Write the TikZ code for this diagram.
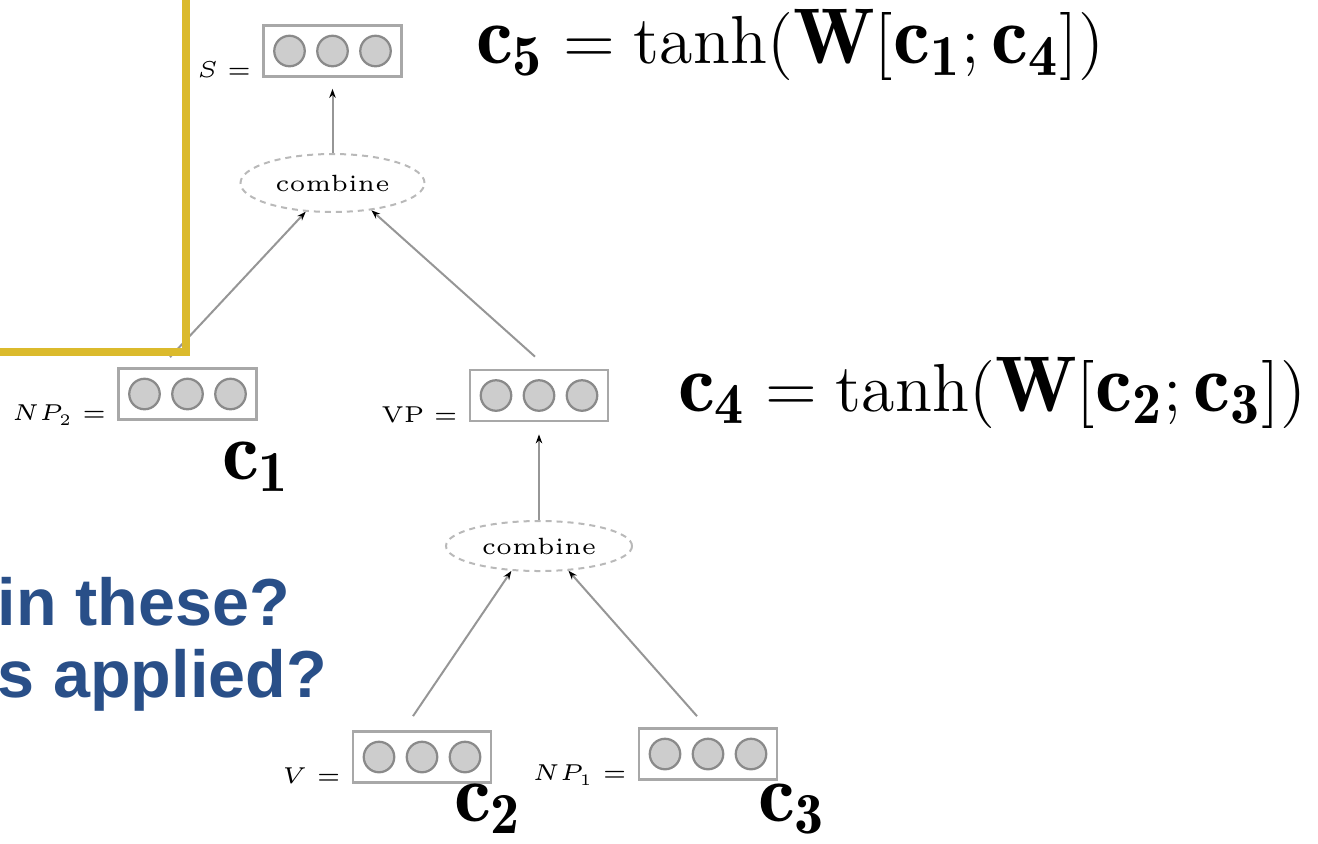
\RequirePackage{fix-cm}
\documentclass[tikz,border=0pt]{standalone}
\usepackage{fontspec}
\newfontfamily\slidefont{Liberation Sans}
\usetikzlibrary{arrows.meta,shapes.geometric}

\definecolor{marker}{RGB}{219,186,44}
\definecolor{slideblue}{RGB}{41,79,136}
\definecolor{rimgray}{RGB}{168,168,168}
\definecolor{cellfill}{RGB}{205,205,205}
\definecolor{cellrim}{RGB}{138,138,138}
\definecolor{wiregray}{RGB}{150,150,150}
\definecolor{dashgray}{RGB}{185,185,185}

% three units inside a vector box
\newcommand\vecrow[1]{%
  \foreach \k/\dx in {1/-1,2/0,3/1}
    \node[cell, xshift=\dx*8.6pt] (#1\k) at (#1) {};
}
% bold vector names, set a little larger than the rest
\newcommand\cv[1]{\mbox{\fontsize{16.6}{18}\selectfont$\mathbf{c_{#1}}$}}
\newcommand\Wm{\mbox{\fontsize{15.8}{17}\selectfont$\mathbf{W}$}}

\begin{document}
\begin{tikzpicture}[x=0.2pt, y=-0.2pt,
  vecbox/.style={draw=rimgray, line width=0.55pt, minimum width=27.6pt, minimum height=10.2pt, inner sep=0pt},
  cell/.style={circle, draw=cellrim, fill=cellfill, line width=0.45pt, minimum size=6.1pt, inner sep=0pt},
  tag/.style={font=\fontsize{4.6}{5.5}\selectfont, inner sep=0pt, anchor=base east},
  merge/.style={ellipse, draw=dashgray, line width=0.4pt, dash pattern=on 1.2pt off 1pt, minimum width=36.8pt, minimum height=11pt, inner sep=0pt, font=\fontsize{4.7}{5.5}\selectfont},
  feed/.style={draw=wiregray, line width=0.4pt, -{Stealth[length=1.8pt, width=1.3pt, black]}},
  eqn/.style={font=\fontsize{13.6}{16}\selectfont, inner sep=0pt, anchor=base west},
  question/.style={font=\slidefont\fontsize{13.3}{15}\selectfont\bfseries, text=slideblue, inner sep=0pt, anchor=base west},
]
\useasboundingbox (0,0) rectangle (1318,843);
\clip (0,0) rectangle (1318,843);

%% top of the tree
\node[vecbox] (s) at (332.5,51) {}; \vecrow{s}
\node[tag] (s-tag) at ([xshift=-2pt]s.south west) {$S=$};
\node[merge, minimum height=11.6pt] (m1) at (332.5,183) {combine};

%% middle level
\node[vecbox] (np2) at (187.5,394) {}; \vecrow{np2}
\node[tag] (np2-tag) at ([xshift=-2pt]np2.south west) {$NP_2=$};
\node[vecbox] (vp) at (539,395.5) {}; \vecrow{vp}
\node[tag] (vp-tag) at ([xshift=-2pt]vp.south west) {$\mathrm{VP}=$};
\node[merge, minimum height=10pt, minimum width=37.2pt] (m2) at (539,546) {combine};

%% leaves
\node[vecbox] (v) at (422,757) {}; \vecrow{v}
\node[tag] (v-tag) at ([xshift=-2pt]v.south west) {$V=$};
\node[vecbox] (np1) at (708,754) {}; \vecrow{np1}
\node[tag] (np1-tag) at ([xshift=-2pt]np1.south west) {$NP_1=$};

%% names and equations
\node[eqn] (c1) at (221,479) {\cv1};
\node[eqn] (c2) at (453,821) {\cv2};
\node[eqn] (c3) at (757,821) {\cv3};
\node[eqn] (f5) at (475,63) {\cv5${}=\tanh(\Wm[\cv1;\cv4])$};
\node[eqn] (f4) at (677,411) {\cv4${}=\tanh(\Wm[\cv2;\cv3])$};

%% arrows
\draw[feed] (m1.north) -- ([yshift=-2.2pt]s.south);
\draw[feed] ([xshift=-3.5pt,yshift=2pt]np2.north) -- (m1.227);
\draw[feed] ([xshift=-0.8pt,yshift=2.4pt]vp.north) -- (m1.325);
\draw[feed] (m2.north) -- ([yshift=-2.4pt]vp.south);
\draw[feed] ([xshift=-1.8pt,yshift=2.8pt]v.north) -- (m2.222);
\draw[feed] ([xshift=-2.2pt,yshift=2.2pt]np1.north) -- (m2.320);

%% slide text
\node[question] (q1) at (-3,625) {in these?};
\node[question] (q2) at (-3,697) {s applied?};

%% highlighter stroke
\draw[marker, line width=1.6pt, line join=miter] (186,-20) -- (186,352) -- (-20,352);
\end{tikzpicture}
\end{document}
